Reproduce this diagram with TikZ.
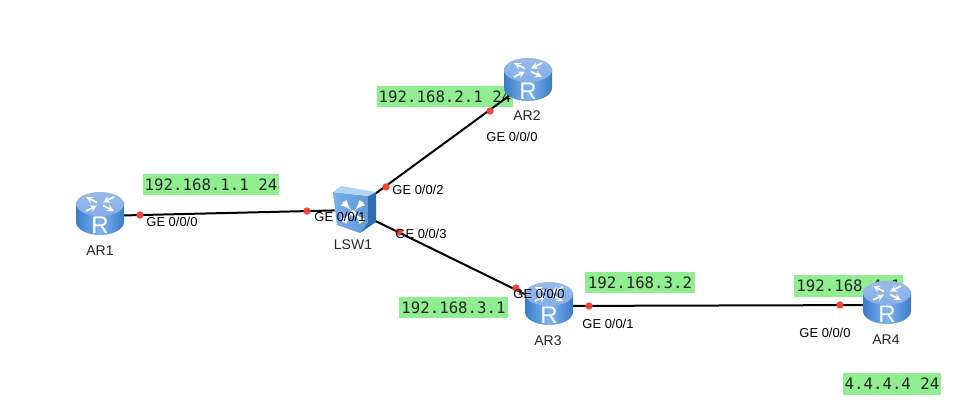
\documentclass[tikz,border=0pt]{standalone}
\usepackage{fontspec}
\setmainfont{Liberation Sans}
\newfontfamily\ipfont{DejaVu Sans Mono}
\usetikzlibrary{backgrounds}
\definecolor{routerdark}{HTML}{3A7BC8}
\definecolor{routerlight}{HTML}{7FB4F0}
\definecolor{routertop}{HTML}{86AEE6}
\definecolor{switchface}{HTML}{78AEEC}
\definecolor{switchside}{HTML}{2F6DB0}
\definecolor{ipgreen}{HTML}{90EE90}
\definecolor{portred}{HTML}{F5423C}
\tikzset{
  main node/.style={circle,minimum size=34.5pt,inner sep=0pt},
  switch node/.style={circle,minimum size=27pt,inner sep=0pt},
  name label/.style={font=\fontsize{10.5pt}{12pt}\selectfont,text=black!85,inner sep=0pt},
  port label/.style={font=\fontsize{9.7pt}{11pt}\selectfont,text=black,inner sep=0pt},
  ip label/.style={fill=ipgreen,font=\ipfont\fontsize{11.8pt}{13pt}\selectfont,text=black!85,
    minimum height=16pt,inner xsep=1pt,inner ysep=0pt},
  link/.style={draw=black,line width=1.5pt},
  port dot/.style={circle,fill=portred,minimum size=5.5pt,inner sep=0pt},
  router/.pic={
    \shade[left color=routerdark,right color=routerdark,middle color=routerlight]
      (-24,-12) -- (-24,8) arc[start angle=180,end angle=0,x radius=24,y radius=13]
      -- (24,-12) -- cycle;
    \shade[top color=routertop!85!white,bottom color=routertop]
      (0,-10) ellipse[x radius=24,y radius=12];
    \foreach \sx/\sy in {1/1,-1/-1}
      \draw[white,line width=1.3pt,-stealth] (3*\sx,-10+1.5*\sy) -- (14*\sx,-10+7*\sy);
    \foreach \sx/\sy in {1/-1,-1/1}
      \draw[white,line width=1.3pt,stealth-] (3*\sx,-10+1.5*\sy) -- (14*\sx,-10+7*\sy);
    \node[text=white,inner sep=0pt,font=\fontsize{18pt}{18pt}\selectfont] (-R) at (0,11) {R};
  },
  lanswitch/.pic={
    \fill[switchside] (15,-14) -- (23,-18) -- (23,12) -- (7,23) -- (15,12) -- cycle;
    \shade[left color=switchface,right color=switchface!70!switchside]
      (-20,-18) -- (15,-14) -- (15,12) -- (7,23) -- (-16,15) -- cycle;
    \fill[routerlight!60!white] (-20,-18) -- (-12,-24) -- (23,-18) -- (15,-14) -- cycle;
    \foreach \a in {45,135,225,315}
      \draw[white,line width=1.6pt,latex-] (0,2) ++(\a:3) -- ++(\a:11);
    \fill[white] (0,3) circle (3);
  },
}
\begin{document}
\begin{tikzpicture}[x=0.75pt,y=-0.75pt]
  \useasboundingbox (0,0) rectangle (965,407);

  \node[main node] (AR1) at (100,216) {};
  \node[main node] (AR2) at (528,82) {};
  \node[main node] (AR3) at (549,306) {};
  \node[main node] (AR4) at (887,305) {};
  \node[switch node] (LSW1) at (353,210) {};

  \begin{pgfonlayer}{background}
    \fill[white] (0,0) rectangle (965,407);
    \node[ip label] (ip1) at (211,184.5) {192.168.1.1 24};
    \node[ip label] (ip2) at (445,96.5) {192.168.2.1 24};
    \node[ip label,minimum width=82pt] (ip3) at (453.5,307.5) {192.168.3.1};
    \node[ip label,minimum width=82pt] (ip4) at (640,282.5) {192.168.3.2};
    \node[ip label,minimum width=82pt] (ip5) at (848.5,286) {192.168.4.1};
    \node[ip label,minimum width=74pt] (ip6) at (892,384) {4.4.4.4 24};
    \path[link]
    (AR1) edge (LSW1)
    (LSW1) edge (AR2)
    (LSW1) edge (AR3)
    (AR3) edge (AR4);
  \end{pgfonlayer}

  \pic (iconAR1) at ([yshift=1.5pt]AR1) {router};
  \pic (iconAR2) at ([yshift=1.5pt]AR2) {router};
  \pic (iconAR3) at ([yshift=1.5pt]AR3) {router};
  \pic (iconAR4) at ([yshift=1.5pt]AR4) {router};
  \pic at (LSW1) {lanswitch};

  \node[port dot] (d1) at (140,215) {};
  \node[port dot] (d2) at (307,211) {};
  \node[port dot] (d3) at (386,187) {};
  \node[port dot] (d4) at (490,111) {};
  \node[port dot] (d5) at (399,232) {};
  \node[port dot] (d6) at (516,288) {};
  \node[port dot] (d7) at (589,306) {};
  \node[port dot] (d8) at (840,305) {};

  \node[name label] (lAR1) at (100,251) {AR1};
  \node[name label] (lAR2) at (527,116) {AR2};
  \node[name label] (lAR3) at (548,341) {AR3};
  \node[name label] (lAR4) at (886,340) {AR4};
  \node[name label] (lLSW1) at (353,245) {LSW1};

  \node[port label] (p1) at (172,222) {GE 0/0/0};
  \node[port label] (p2) at (340,217) {GE 0/0/1};
  \node[port label] (p3) at (418,190) {GE 0/0/2};
  \node[port label] (p4) at (421,234) {GE 0/0/3};
  \node[port label] (p5) at (512,137) {GE 0/0/0};
  \node[port label] (p6) at (539,294) {GE 0/0/0};
  \node[port label] (p7) at (608,324) {GE 0/0/1};
  \node[port label] (p8) at (825,333) {GE 0/0/0};
\end{tikzpicture}
\end{document}
